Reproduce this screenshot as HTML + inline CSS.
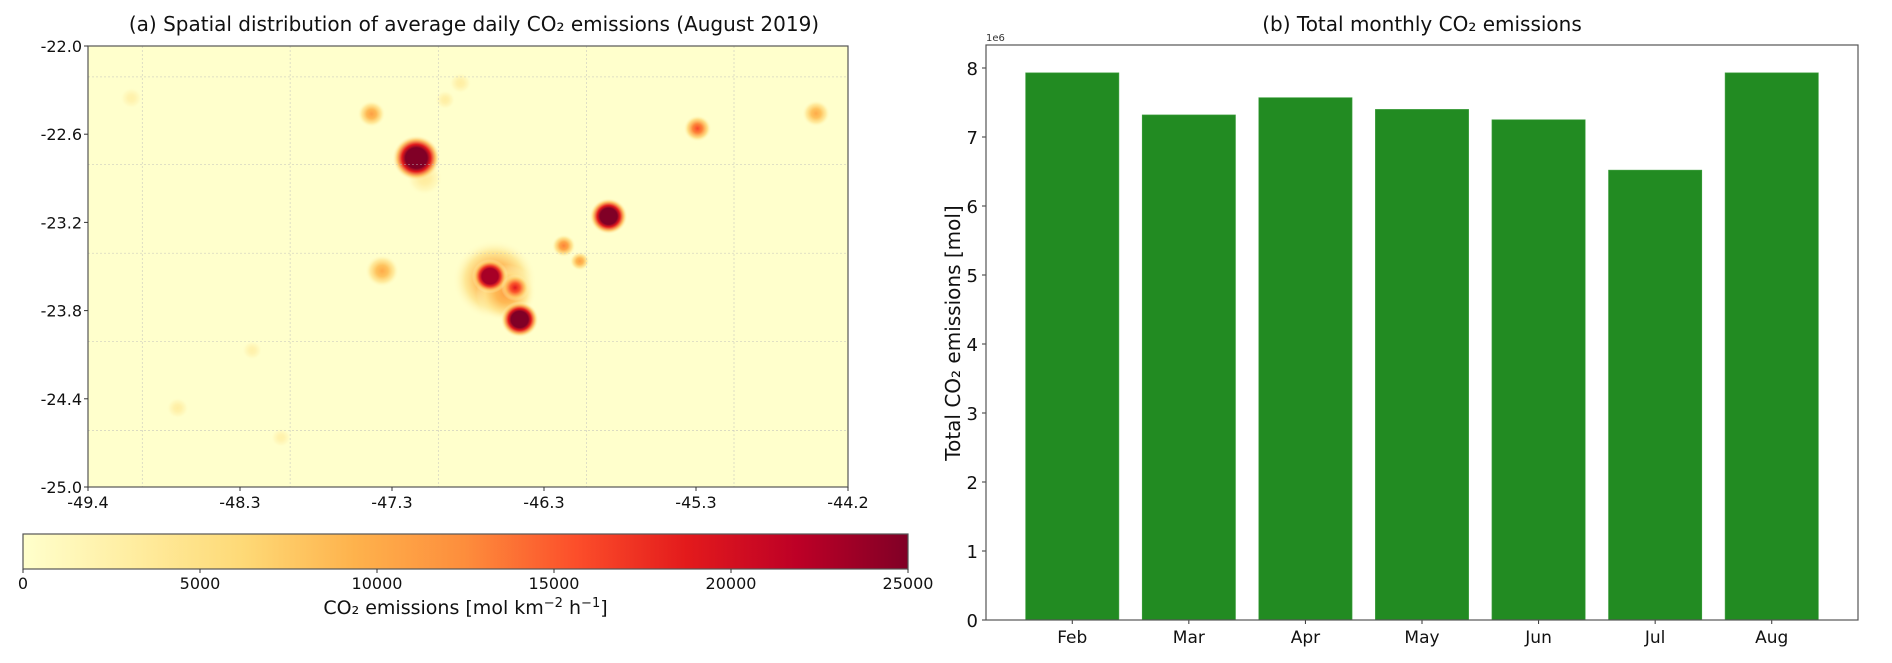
<!DOCTYPE html>
<html><head><meta charset="utf-8">
<style>
body{margin:0;background:#fff;}
svg{display:block;font-family:"DejaVu Sans","Liberation Sans",sans-serif;}
</style></head>
<body>
<svg id="fig" width="1892" height="663" viewBox="0 0 1892 663">
<defs id="defs">
<linearGradient id="cmap" x1="0" x2="1" y1="0" y2="0">
<stop offset="0" stop-color="#ffffcc"/>
<stop offset="0.125" stop-color="#ffeda0"/>
<stop offset="0.25" stop-color="#fed976"/>
<stop offset="0.375" stop-color="#feb24c"/>
<stop offset="0.5" stop-color="#fd8d3c"/>
<stop offset="0.625" stop-color="#fc4e2a"/>
<stop offset="0.75" stop-color="#e31a1c"/>
<stop offset="0.875" stop-color="#bd0026"/>
<stop offset="1" stop-color="#800026"/>
</linearGradient>
<clipPath id="mapclip"><rect x="88" y="46" width="760" height="441"/></clipPath>
</defs>
<g id="left"></g>
<g id="right"></g>
</svg>
<script>
const NS='http://www.w3.org/2000/svg';
// ---- map data ----
const latTicks=['-22.0','-22.6','-23.2','-23.8','-24.4','-25.0'];
const lonTicks=['-49.4','-48.3','-47.3','-46.3','-45.3','-44.2'];
const cbarTicks=[0,5000,10000,15000,20000,25000];
// hotspots (drawn in order; big soft ones first)
const hotLon=[0.535,0.55,0.443,0.49,0.47,0.057,0.216,0.118,0.254,0.387,0.373,0.802,0.958,0.626,0.647,0.529,0.562,0.432,0.685,0.568];
const hotLat=[0.53,0.56,0.30,0.084,0.122,0.118,0.69,0.821,0.888,0.51,0.154,0.187,0.153,0.453,0.488,0.522,0.548,0.254,0.386,0.62];
const hotVal=[12000,11000,3500,3000,3000,2500,2500,3000,2500,10000,11000,16000,10000,13000,11000,23000,19000,25000,25000,25000];
const hotSize=[42,30,18,11,10,11,10,11,10,17,14,14,14,12,10,18,14,24,19,19];

// ---- bar data ----
const months=['Feb','Mar','Apr','May','Jun','Jul','Aug'];
const totals=[7.93,7.32,7.57,7.40,7.25,6.52,7.93];
const yTicks=[0,1,2,3,4,5,6,7,8];

function mk(tag,attrs,parent,text){const e=document.createElementNS(NS,tag);for(const k in attrs)e.setAttribute(k,attrs[k]);if(text!==undefined)e.textContent=text;parent.appendChild(e);return e;}
const stops=[[0,'#ffffcc'],[.125,'#ffeda0'],[.25,'#fed976'],[.375,'#feb24c'],[.5,'#fd8d3c'],[.625,'#fc4e2a'],[.75,'#e31a1c'],[.875,'#bd0026'],[1,'#800026']];
function cmap(v){const t=Math.max(0,Math.min(1,v/25000));for(let i=1;i<stops.length;i++){if(t<=stops[i][0]){const a=stops[i-1],b=stops[i];const f=(t-a[0])/(b[0]-a[0]);const pa=parseInt(a[1].slice(1),16),pb=parseInt(b[1].slice(1),16);const c=[16,8,0].map(s=>Math.round(((pa>>s)&255)*(1-f)+((pb>>s)&255)*f));return 'rgb('+c.join(',')+')';}}return '#800026';}

// ---- left panel ----
const L=document.getElementById('left');
const D=document.getElementById('defs');
const mx0=88,my0=46,mw=760,mh=441;
const lonX=f=>mx0+f*mw, latY=f=>my0+f*mh;
const mt=mk('text',{x:474,y:31,'text-anchor':'middle','font-size':20,fill:'#111'},L,'(a) Spatial distribution of average daily CO₂ emissions (August 2019)');


const bg=mk('rect',{x:mx0,y:my0,width:mw,height:mh,fill:'#ffffcc'},L);


const hg=mk('g',{'clip-path':'url(#mapclip)'},L);


for(let i=0;i<hotLon.length;i++){
  const cx=lonX(hotLon[i]),cy=latY(hotLat[i]),r=hotSize[i],v=hotVal[i];
  const gid='hg'+i;
  const rg=mk('radialGradient',{id:gid},D);
  const dark=v>=23000;
  const st=dark?[[0,v,1],[0.45,v,1],[0.6,v*0.75,1],[0.8,v*0.35,0.8],[1,0,0]]:[[0,v,1],[0.35,v*0.8,1],[0.7,v*0.4,0.8],[1,0,0]];
  st.forEach(s=>mk('stop',{offset:s[0],'stop-color':cmap(s[1]),'stop-opacity':s[2]},rg));
  const c=mk('ellipse',{cx:cx,cy:cy,rx:r,ry:r*0.95,fill:'url(#'+gid+')'},hg);
  
  
}
// gridlines
const gv=[0.0715,0.266,0.461,0.656,0.85], gh=[0.07,0.269,0.47,0.67,0.872];
gv.forEach(f=>{const l=mk('line',{x1:lonX(f),x2:lonX(f),y1:my0,y2:my0+mh,stroke:'#bbb','stroke-width':0.8,'stroke-dasharray':'2,2',opacity:0.6},L);});
gh.forEach(f=>{const l=mk('line',{x1:mx0,x2:mx0+mw,y1:latY(f),y2:latY(f),stroke:'#bbb','stroke-width':0.8,'stroke-dasharray':'2,2',opacity:0.6},L);});
const mf=mk('rect',{x:mx0,y:my0,width:mw,height:mh,fill:'none',stroke:'#555','stroke-width':1.2},L);


latTicks.forEach((t,i)=>{const y=my0+i*mh/(latTicks.length-1);mk('line',{x1:mx0-4,x2:mx0,y1:y,y2:y,stroke:'#333'},L);const e=mk('text',{x:mx0-6,y:y+6,'text-anchor':'end','font-size':16,fill:'#111'},L,t);});
lonTicks.forEach((t,i)=>{const x=mx0+i*mw/(lonTicks.length-1);mk('line',{x1:x,x2:x,y1:my0+mh,y2:my0+mh+4,stroke:'#333'},L);const e=mk('text',{x:x,y:my0+mh+21,'text-anchor':'middle','font-size':16,fill:'#111'},L,t);});
// colorbar
const cx0=23,cw=885,cy0=534,ch=35;
const cb=mk('rect',{x:cx0,y:cy0,width:cw,height:ch,fill:'url(#cmap)',stroke:'#555','stroke-width':1.2},L);


cbarTicks.forEach(v=>{const x=cx0+v/25000*cw;mk('line',{x1:x,x2:x,y1:cy0+ch,y2:cy0+ch+4,stroke:'#333'},L);const e=mk('text',{x:x,y:589,'text-anchor':'middle','font-size':16,fill:'#111'},L,String(v));});
const cl=mk('text',{x:cx0+cw/2,y:614,'text-anchor':'middle','font-size':19,fill:'#111'},L);


cl.innerHTML='CO₂ emissions [mol km<tspan dy="-7" font-size="13">−2</tspan><tspan dy="7"> h</tspan><tspan dy="-7" font-size="13">−1</tspan><tspan dy="7">]</tspan>';

// ---- right panel ----
const R=document.getElementById('right');
const ax0=986,ax1=1858,ay0=45,ay1=620;
const ppu=69;
const yS=v=>ay1-v*ppu;
const unit=(ax1-ax0)/(months.length-1+1.48);
const xS=i=>ax0+(i+0.74)*unit;
const rt=mk('text',{x:1422,y:31,'text-anchor':'middle','font-size':20,fill:'#111'},R,'(b) Total monthly CO₂ emissions');


totals.forEach((v,i)=>{const w=unit*0.8;const b=mk('rect',{x:xS(i)-w/2,y:yS(v),width:w,height:ay1-yS(v),fill:'#228b22',stroke:'#3fa03f','stroke-width':0.6},R);
 mk('line',{x1:xS(i),x2:xS(i),y1:ay1,y2:ay1+4,stroke:'#333'},R);
 const t=mk('text',{x:xS(i),y:ay1+23,'text-anchor':'middle','font-size':17,fill:'#111'},R,months[i]);});
yTicks.forEach(v=>{const y=yS(v);mk('line',{x1:ax0-4,x2:ax0,y1:y,y2:y,stroke:'#333'},R);const t=mk('text',{x:ax0-8,y:y+7,'text-anchor':'end','font-size':18,fill:'#111'},R,String(v));});
const fr=mk('rect',{x:ax0,y:ay0,width:ax1-ax0,height:ay1-ay0,fill:'none',stroke:'#555','stroke-width':1.2},R);


const off=mk('text',{x:ax0,y:ay0-4,'font-size':10,fill:'#333'},R,'1e6');


const yl=mk('text',{x:0,y:0,'text-anchor':'middle','font-size':20,fill:'#111',transform:'translate(960,333) rotate(-90)'},R,'Total CO₂ emissions [mol]');


</script>
</body></html>
